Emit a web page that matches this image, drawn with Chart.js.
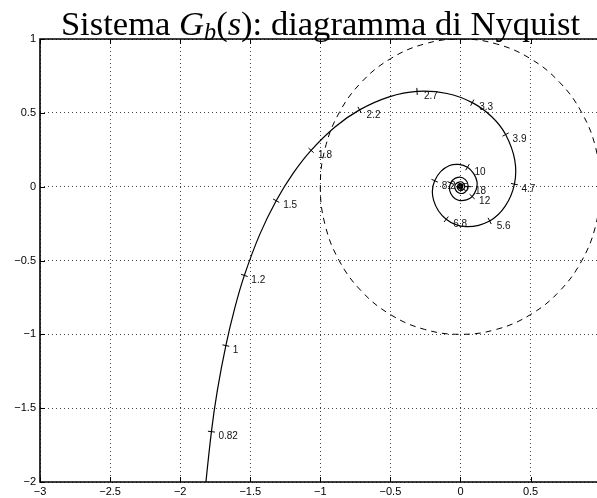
<!DOCTYPE html>
<html>
<head>
<meta charset="utf-8">
<script src="https://cdn.jsdelivr.net/npm/chart.js@4.4.0/dist/chart.umd.min.js"></script>
<style>
  html, body { margin: 0; padding: 0; background: #fff; overflow: hidden; }
  #wrap { position: relative; width: 597px; height: 498px; }
  #titolo {
    position: absolute; left: 0; top: 6px; width: 641px; text-align: center;
    font-family: "Liberation Serif", "DejaVu Serif", serif; font-size: 34.6px; line-height: 34px;
    color: #000; white-space: nowrap;
  }
  #titolo sub { font-size: 70%; line-height: 0; vertical-align: -0.22em; }
</style>
</head>
<body>
<div id="wrap">
  <canvas id="grafico" width="597" height="498"></canvas>
  <div id="titolo">Sistema <i>G</i><sub><i>b</i></sub>(<i>s</i>): diagramma di Nyquist</div>
</div>
<script>
// pulsazioni lette lungo la curva (rad/s)
var omega = [0.7, 0.82, 0.9, 1, 1.1, 1.2, 1.35, 1.5, 1.65, 1.8, 2.0, 2.2, 2.45, 2.7, 3.0, 3.3, 3.6, 3.9, 4.3, 4.7,
    5.15, 5.6, 6.2, 6.8, 7.5, 8.2, 9.1, 10, 11, 12, 13, 14, 15, 16, 17, 18, 19, 20, 21, 22,
    23.5, 25, 26.5, 28, 29.5, 31, 33, 35, 37, 39, 41, 43, 45, 47, 49];
// parte reale
var re = [-1.836, -1.777, -1.734, -1.674, -1.610, -1.542, -1.432, -1.315, -1.192, -1.066, -0.893, -0.720, -0.509, -0.310, -0.096, 0.084, 0.225, 0.322, 0.387, 0.385,
    0.318, 0.208, 0.041, -0.102, -0.191, -0.184, -0.078, 0.050, 0.118, 0.083, -0.005, -0.069, -0.070, -0.019, 0.035, 0.054, 0.030, -0.011, -0.038, -0.033,
    0.011, 0.030, 0.002, -0.023, -0.010, 0.015, 0.008, -0.015, 0.001, 0.012, -0.006, -0.008, 0.008, 0.003, -0.008];
// parte immaginaria
var im = [-2.180, -1.659, -1.376, -1.076, -0.821, -0.601, -0.323, -0.095, 0.093, 0.246, 0.406, 0.520, 0.608, 0.645, 0.631, 0.569, 0.472, 0.353, 0.181, 0.017,
    -0.134, -0.232, -0.271, -0.221, -0.095, 0.040, 0.143, 0.132, 0.032, -0.067, -0.094, -0.046, 0.025, 0.063, 0.048, 0.001, -0.039, -0.043, -0.016, 0.019,
    0.032, -0.004, -0.027, -0.007, 0.019, 0.013, -0.016, -0.003, 0.014, -0.004, -0.010, 0.007, 0.005, -0.008, -0.001];

// pulsazioni marcate e relative etichette
var omegaMarcate = [0.82, 1, 1.2, 1.5, 1.8, 2.2, 2.7, 3.3, 3.9, 4.7, 5.6, 6.8, 8.2, 10, 12, 15, 18];
var etichetteMarcate = ["0.82", "1", "1.2", "1.5", "1.8", "2.2", "2.7", "3.3", "3.9", "4.7", "5.6", "6.8", "8.2", "10", "12", "15", "18"];

// cerchio unitario (ogni 15 gradi)
var cerchioX = [1, 0.9659, 0.8660, 0.7071, 0.5, 0.2588, 0, -0.2588, -0.5, -0.7071, -0.8660, -0.9659, -1,
    -0.9659, -0.8660, -0.7071, -0.5, -0.2588, 0, 0.2588, 0.5, 0.7071, 0.8660, 0.9659, 1];
var cerchioY = [0, 0.2588, 0.5, 0.7071, 0.8660, 0.9659, 1, 0.9659, 0.8660, 0.7071, 0.5, 0.2588, 0,
    -0.2588, -0.5, -0.7071, -0.8660, -0.9659, -1, -0.9659, -0.8660, -0.7071, -0.5, -0.2588, 0];

var tickX = [-3, -2.5, -2, -1.5, -1, -0.5, 0, 0.5];
var tickY = [-2, -1.5, -1, -0.5, 0, 0.5, 1];

var indiciMarcati = omegaMarcate.map(function (w) { return omega.indexOf(w); });

function formato(v) {
    v = Math.round(v * 10) / 10;
    return (v < 0 ? "\u2212" : "") + Math.abs(v);
}

var pluginCornice = {
    id: "cornice",
    afterDraw: function (chart) {
        var ctx = chart.ctx, a = chart.chartArea, sx = chart.scales.x, sy = chart.scales.y;
        ctx.save();
        ctx.strokeStyle = "#000";
        ctx.lineWidth = 1;
        ctx.beginPath();
        tickX.forEach(function (v) {
            var p = Math.round(sx.getPixelForValue(v)) + 0.5;
            ctx.moveTo(p, a.bottom); ctx.lineTo(p, a.bottom - 5);
            ctx.moveTo(p, a.top); ctx.lineTo(p, a.top + 5);
        });
        tickY.forEach(function (v) {
            var p = Math.round(sy.getPixelForValue(v)) + 0.5;
            ctx.moveTo(a.left, p); ctx.lineTo(a.left + 5, p);
        });
        ctx.stroke();
        ctx.lineWidth = 1.6;
        ctx.beginPath();
        ctx.moveTo(a.right + 5, a.top);
        ctx.lineTo(a.left, a.top);
        ctx.lineTo(a.left, a.bottom);
        ctx.lineTo(a.right + 5, a.bottom);
        ctx.stroke();
        ctx.restore();
    }
};

var pluginEtichette = {
    id: "etichette",
    afterDatasetsDraw: function (chart) {
        var ctx = chart.ctx, sx = chart.scales.x, sy = chart.scales.y;
        ctx.save();
        ctx.font = "10px 'Liberation Sans', Arial, sans-serif";
        ctx.fillStyle = "#111";
        ctx.textAlign = "left";
        ctx.textBaseline = "middle";
        indiciMarcati.forEach(function (i, k) {
            ctx.fillText(etichetteMarcate[k], sx.getPixelForValue(re[i]) + 7, sy.getPixelForValue(im[i]) + 5);
        });
        ctx.restore();
    }
};

var _grafico = new Chart(document.getElementById("grafico"), {
    type: "scatter",
    data: {
        datasets: [
            {
                data: cerchioX.map(function (v, i) { return { x: v, y: cerchioY[i] }; }),
                showLine: true, borderColor: "#000", borderWidth: 1, borderDash: [6, 5],
                pointRadius: 0, tension: 0.4, fill: false
            },
            {
                data: re.map(function (v, i) { return { x: v, y: im[i] }; }),
                showLine: true, borderColor: "#000", borderWidth: 1.2,
                pointRadius: 0, tension: 0.35, fill: false
            },
            {
                data: indiciMarcati.map(function (i) { return { x: re[i], y: im[i] }; }),
                showLine: false, pointStyle: "line", pointRadius: 3.5, pointBorderWidth: 1,
                pointBorderColor: "#000",
                pointRotation: function (c) {
                    var i = indiciMarcati[c.dataIndex], sx = c.chart.scales.x, sy = c.chart.scales.y;
                    if (!sx || i === undefined) return 0;
                    var dx = sx.getPixelForValue(re[i + 1]) - sx.getPixelForValue(re[i - 1]);
                    var dy = sy.getPixelForValue(im[i + 1]) - sy.getPixelForValue(im[i - 1]);
                    return Math.atan2(dy, dx) * 180 / Math.PI + 90;
                }
            }
        ]
    },
    options: {
        responsive: false,
        animation: false,
        devicePixelRatio: 1,
        layout: { autoPadding: false, padding: { top: 39, left: 0, right: 0, bottom: 0 } },
        plugins: { legend: { display: false }, tooltip: { enabled: false }, title: { display: false } },
        scales: {
            x: {
                type: "linear", min: -3, max: 0.974,
                afterBuildTicks: function (s) { s.ticks = tickX.map(function (v) { return { value: v }; }); },
                afterFit: function (s) { s.height = 16; s.paddingLeft = 0; s.paddingRight = 0; },
                ticks: {
                    callback: formato, color: "#000", padding: 3, maxRotation: 0, autoSkip: false,
                    font: { family: "'Liberation Sans', Arial, sans-serif", size: 11 }
                },
                grid: { color: "#444", lineWidth: 1, drawTicks: false },
                border: { display: false, dash: [1, 3] }
            },
            y: {
                type: "linear", min: -2, max: 1,
                afterBuildTicks: function (s) { s.ticks = tickY.map(function (v) { return { value: v }; }); },
                afterFit: function (s) { s.width = 40; s.paddingTop = 0; s.paddingBottom = 0; },
                ticks: {
                    callback: formato, color: "#000", padding: 4,
                    font: { family: "'Liberation Sans', Arial, sans-serif", size: 11 }
                },
                grid: { color: "#444", lineWidth: 1, drawTicks: false },
                border: { display: false, dash: [1, 3] }
            }
        }
    },
    plugins: [pluginCornice, pluginEtichette]
});
</script>
</body>
</html>
